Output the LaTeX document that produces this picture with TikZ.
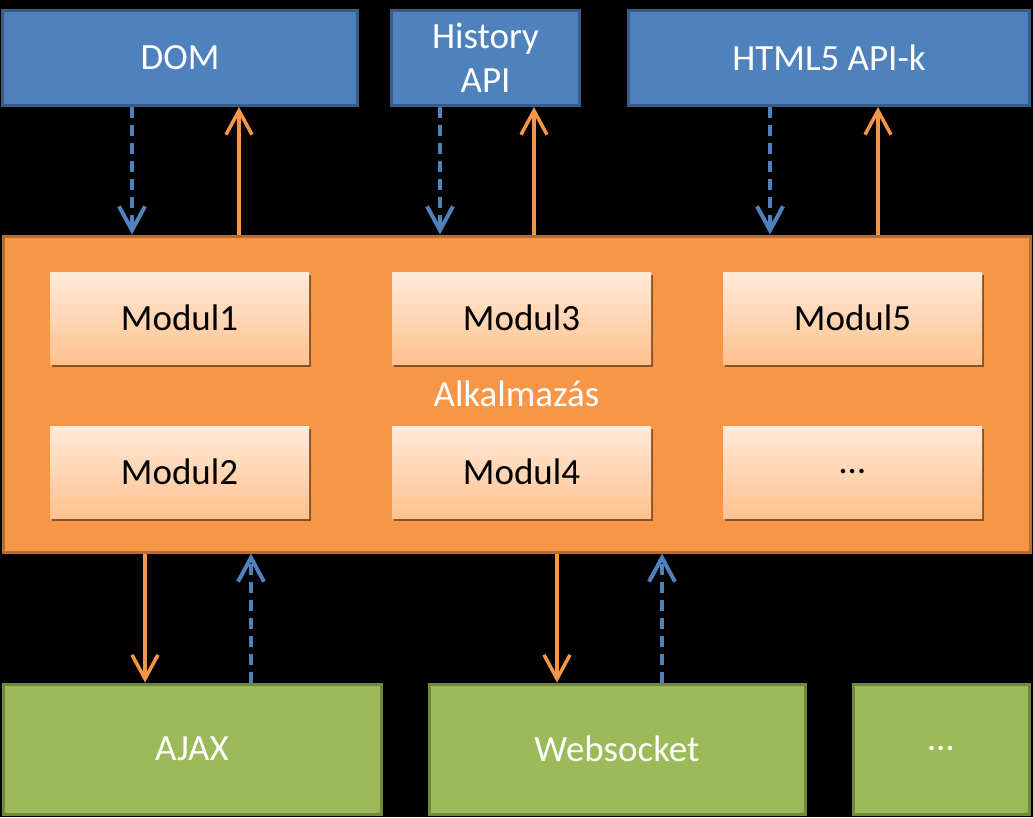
\documentclass[tikz,border=0pt]{standalone}
\usepackage{fontspec}
\setmainfont{Carlito}
\usepackage{tikz}
\usetikzlibrary{arrows.meta,shadows,positioning}
\definecolor{boxblue}{HTML}{4F81BD}
\definecolor{lineblue}{HTML}{385D8A}
\definecolor{apporange}{HTML}{F79646}
\definecolor{lineorange}{HTML}{B66D31}
\definecolor{boxgreen}{HTML}{9BBB59}
\definecolor{linegreen}{HTML}{71893F}
\definecolor{modtop}{HTML}{FFEADA}
\definecolor{modbottom}{HTML}{FFC18E}

\begin{document}
\begin{tikzpicture}[x=1pt, y=-1pt, line width=3pt, font=\fontsize{37}{44}\selectfont,
    dataflow/.style={draw=boxblue, line width=4pt, dash pattern=on 11pt off 7pt, -{Straight Barb[length=24pt,width=26pt]}},
    callflow/.style={draw=apporange, line width=3.5pt, -{Straight Barb[length=24pt,width=26pt]}}]
   \path[use as bounding box, fill=black] (0,0) rectangle (1033,817);
   \begin{scope}[every node/.style={rectangle,draw=lineblue,fill=boxblue,text=white,minimum height=95pt,inner sep=0pt,align=center}]
    \node[minimum width=355pt] (dom) at (180,58) {DOM};
    \node[minimum width=188pt] (hist) at (485.5,58) {History\\API};
    \node[minimum width=401pt] (html) at (829,58) {HTML5 API-k};
   \end{scope}
   \node[rectangle,draw=lineorange,fill=apporange,text=white,minimum width=1027pt,minimum height=316pt] (app) at (516.5,394) {Alkalmazás};
   \begin{scope}[every node/.style={rectangle,top color=modtop,bottom color=modbottom,minimum width=259pt,minimum height=92pt,
       drop shadow={shadow xshift=2pt,shadow yshift=-3pt,opacity=.45,fill=black}}]
    \node (mod1) at (179.5,318) {Modul1};
    \node (mod3) at (521.5,318) {Modul3};
    \node (mod5) at (852.5,318) {Modul5};
    \node (mod2) at (179.5,472) {Modul2};
    \node (mod4) at (521.5,472) {Modul4};
    \node (mod6) at (852.5,472) {…};
   \end{scope}
   \begin{scope}[every node/.style={rectangle,draw=linegreen,fill=boxgreen,text=white,minimum height=130pt,inner sep=0pt}]
    \node[minimum width=378pt] (ajax) at (192,749) {AJAX};
    \node[minimum width=376pt] (ws) at (617,749) {Websocket};
    \node[minimum width=176pt] (more) at (941,749) {…};
   \end{scope}
   \draw[dataflow] (dom.south -| 132,0) -- (app.north -| 132,0);
   \draw[callflow] (app.north -| 239,0) -- (dom.south -| 239,0);
   \draw[dataflow] (hist.south -| 440,0) -- (app.north -| 440,0);
   \draw[callflow] (app.north -| 534,0) -- (hist.south -| 534,0);
   \draw[dataflow] (html.south -| 770,0) -- (app.north -| 770,0);
   \draw[callflow] (app.north -| 878,0) -- (html.south -| 878,0);
   \draw[callflow] (app.south -| 145,0) -- (ajax.north -| 145,0);
   \draw[dataflow] (ajax.north -| 251,0) -- (app.south -| 251,0);
   \draw[callflow] (app.south -| 557,0) -- (ws.north -| 557,0);
   \draw[dataflow] (ws.north -| 662,0) -- (app.south -| 662,0);
\end{tikzpicture}
\end{document}
